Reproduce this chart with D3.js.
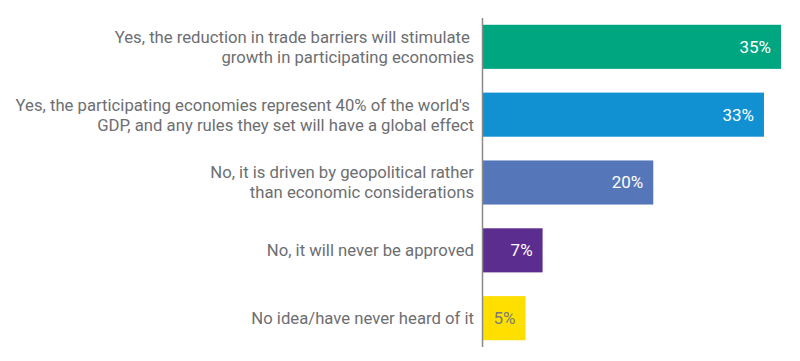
<!DOCTYPE html>
<html>
<head>
<meta charset="utf-8">
<script src="https://cdn.jsdelivr.net/npm/d3@7"></script>
<style>
  body { margin: 0; background: #fff; }
  text { font-family: Roboto, "Liberation Sans", sans-serif; }
</style>
</head>
<body>
<svg width="800" height="361"></svg>
<script>
// answers, one line per row of the label
var answers = [
    ['Yes, the reduction in trade barriers will stimulate ', 'growth in participating economies'],
    ["Yes, the participating economies represent 40% of the world's ", 'GDP, and any rules they set will have a global effect'],
    ['No, it is driven by geopolitical rather', 'than economic considerations'],
    ['No, it will never be approved'],
    ['No idea/have never heard of it']
]
var shares = [35, 33, 20, 7, 5]
var barColors = ['#00a680', '#1191d1', '#5577ba', '#5b2d8f', '#ffdf00']
var valueColors = ['#fff', '#fff', '#fff', '#fff', '#7a7a7a']

var svg = d3.select('svg')

var x = d3.scaleLinear()
    .domain([0, 35])
    .range([483, 781])

var y = d3.scaleBand()
    .domain(d3.range(answers.length))
    .range([18, 347])
    .paddingInner(0.35)
    .paddingOuter(0.1)

svg.selectAll('rect')
    .data(shares)
    .enter()
    .append('rect')
    .attr('x', x(0))
    .attr('y', function(d, i) { return y(i) })
    .attr('width', function(d) { return x(d) - x(0) })
    .attr('height', y.bandwidth())
    .attr('fill', function(d, i) { return barColors[i] })

// the vertical axis line
svg.append('line')
    .attr('x1', 482.5).attr('x2', 482.5)
    .attr('y1', 18).attr('y2', 347)
    .attr('stroke', '#8a8a8a')
    .attr('stroke-width', 1.5)

var lineH = 20
svg.selectAll('text.cat')
    .data(answers)
    .enter()
    .append('text')
    .attr('class', 'cat')
    .attr('text-anchor', 'end')
    .attr('fill', '#6d6e71')
    .attr('font-size', 16.7)
    .style('white-space', 'pre')
    .each(function(lines, i) {
        var cy = y(i) + y.bandwidth() / 2
        var top = cy - (lines.length - 1) * lineH / 2
        d3.select(this).selectAll('tspan')
            .data(lines)
            .enter()
            .append('tspan')
            .attr('x', 474)
            .attr('y', function(l, j) { return top + j * lineH })
            .attr('dy', '0.35em')
            .text(function(l) { return l })
    })

svg.selectAll('text.val')
    .data(shares)
    .enter()
    .append('text')
    .attr('class', 'val')
    .attr('text-anchor', 'end')
    .attr('font-size', 17)
    .attr('x', function(d) { return x(d) - 10 })
    .attr('y', function(d, i) { return y(i) + y.bandwidth() / 2 })
    .attr('dy', '0.35em')
    .attr('fill', function(d, i) { return valueColors[i] })
    .text(function(d) { return d + '%' })
</script>
</body>
</html>
